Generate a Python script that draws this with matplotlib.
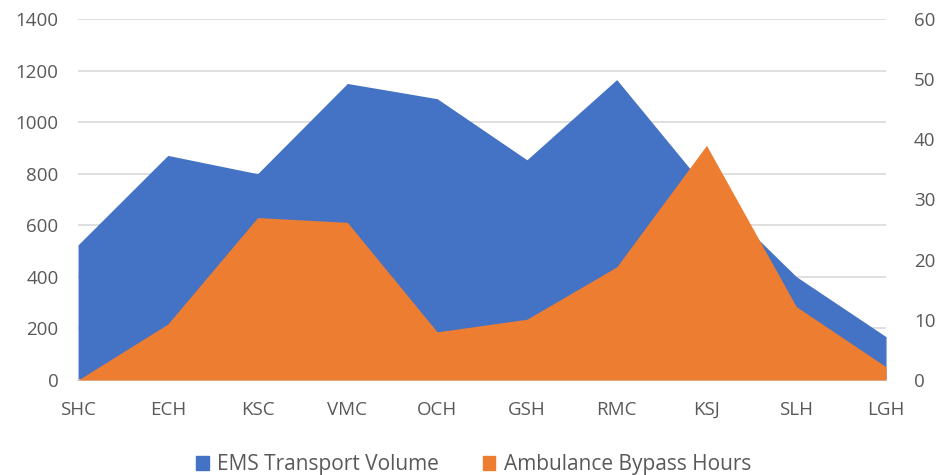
import matplotlib.pyplot as plt
from matplotlib.patches import Patch

# hospitals along the x axis
hospitals = ["SHC", "ECH", "KSC", "VMC", "OCH", "GSH", "RMC", "KSJ", "SLH", "LGH"]

# left axis: EMS transport volume
ems_volume = [524, 871, 800, 1150, 1091, 854, 1165, 742, 401, 168]

# right axis: ambulance bypass hours
bypass_hours = [0, 9.3, 27.0, 26.2, 8.0, 10.1, 18.8, 39.0, 12.2, 2.2]

blue = "#4472C4"
orange = "#ED7D31"
grey = "#595959"

plt.rcParams['font.family'] = ['Open Sans', 'DejaVu Sans']

fig = plt.figure(figsize=(9.38, 4.75), dpi=100)
ax = fig.add_axes([0.0832, 0.2, 0.8614, 0.76])
ax2 = ax.twinx()

x = list(range(len(hospitals)))
ax.fill_between(x, ems_volume, 0, color=blue, linewidth=0, zorder=2)
ax2.fill_between(x, bypass_hours, 0, color=orange, linewidth=0, zorder=2)

ax.set_xlim(0, len(hospitals) - 1)
ax.set_ylim(0, 1400)
ax.set_yticks(range(0, 1401, 200))
ax2.set_ylim(0, 60)
ax2.set_yticks(range(0, 61, 10))

ax.set_xticks(x)
ax.set_xticklabels(hospitals)

ax.grid(axis="y", color="#D9D9D9", linewidth=1.2, zorder=0)
ax.set_axisbelow(True)

for a in (ax, ax2):
    for s in a.spines.values():
        s.set_visible(False)
    a.tick_params(length=0, labelsize=13.5, colors=grey)
ax.spines["bottom"].set_visible(True)
ax.spines["bottom"].set_color("#D9D9D9")
ax.spines["bottom"].set_linewidth(1.2)
ax.tick_params(axis="x", pad=15)
ax.tick_params(axis="y", pad=14)
ax2.tick_params(axis="y", pad=20)

handles = [Patch(color=blue, label="EMS Transport Volume"),
           Patch(color=orange, label="Ambulance Bypass Hours")]
fig.legend(handles=handles, loc="lower center", bbox_to_anchor=(0.505, -0.04), ncol=2,
           frameon=False, fontsize=15, labelcolor=grey, handlelength=0.6,
           handleheight=0.6, handletextpad=0.4, columnspacing=2.1)

fig.savefig("out.png", dpi=100)
